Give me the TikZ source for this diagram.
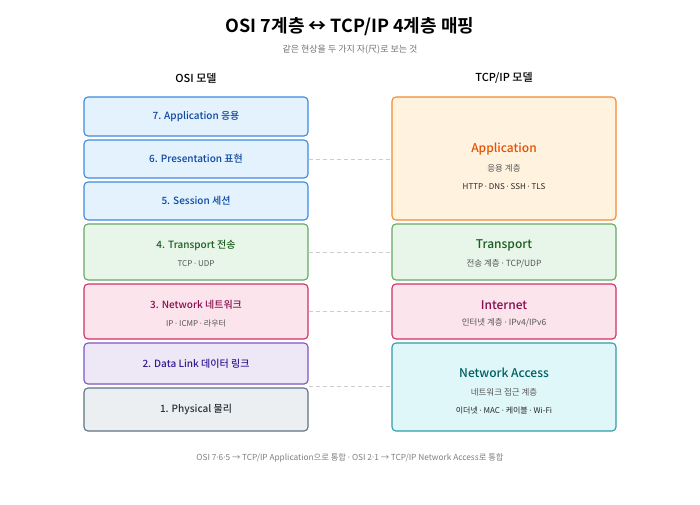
\documentclass[tikz,border=0pt]{standalone}
\usepackage{fontspec}
\setmainfont{Noto Sans CJK KR}[BoldFont={Noto Sans CJK KR Medium}]
\newfontfamily\latinfont{Noto Sans}
\newfontfamily\titlefont{Noto Sans CJK KR Bold}
\newcommand{\mdot}{\ {\latinfont ·}\ }
\usepackage{xcolor}
\usepackage{tikz}
\usetikzlibrary{arrows,positioning,calc}

\definecolor{appfill}{HTML}{E3F2FD}
\definecolor{appline}{HTML}{3D8BE0}
\definecolor{apptext}{HTML}{0D47A1}
\definecolor{trfill}{HTML}{E8F5E9}
\definecolor{trline}{HTML}{66A866}
\definecolor{trtext}{HTML}{1B5E20}
\definecolor{netfill}{HTML}{FCE4EC}
\definecolor{netline}{HTML}{D0306A}
\definecolor{nettext}{HTML}{880E4F}
\definecolor{dlfill}{HTML}{EDE7F6}
\definecolor{dlline}{HTML}{7E57C2}
\definecolor{dltext}{HTML}{311B92}
\definecolor{phfill}{HTML}{ECEFF1}
\definecolor{phline}{HTML}{5F7380}
\definecolor{phtext}{HTML}{263238}
\definecolor{tapfill}{HTML}{FFF3E0}
\definecolor{tapline}{HTML}{F18B2C}
\definecolor{taptext}{HTML}{E65100}
\definecolor{nafill}{HTML}{E0F7FA}
\definecolor{naline}{HTML}{2E9FA6}
\definecolor{natext}{HTML}{006064}
\definecolor{subgray}{HTML}{555555}

\tikzset{
  layerbox/.style={draw, line width=1.1pt, rounded corners=4pt, minimum width=224pt, inner sep=0pt},
  osiname/.style={font=\fontsize{10}{12}\selectfont\bfseries},
  tcpname/.style={font=\fontsize{12}{14}\selectfont\bfseries},
  subtxt/.style={font=\fontsize{8}{10}\selectfont, text=subgray},
  mapline/.style={draw=black!20, line width=0.8pt, dash pattern=on 4pt off 3pt}
}

\begin{document}
\begin{tikzpicture}[x=1pt,y=-1pt]
\useasboundingbox[fill=white] (0,0) rectangle (700,504);

% Title
\node[font=\fontsize{18}{22}\selectfont\titlefont] (title) at (350,27) {OSI 7계층 ↔ TCP/IP 4계층 매핑};
\node[font=\fontsize{9}{11}\selectfont, text=black!55] (subtitle) at (350,50) {같은 현상을 두 가지 자(尺)로 보는 것};

% Column headers
\node[font=\fontsize{11}{13}\selectfont\bfseries] (osihead) at (196,78) {OSI 모델};
\node[font=\fontsize{11}{13}\selectfont\bfseries] (tcphead) at (504,78) {TCP/IP 모델};

% OSI layers
\node[layerbox, fill=appfill, draw=appline, minimum height=39pt] (l7) at (196,116.5) {};
\node[layerbox, fill=appfill, draw=appline, minimum height=38pt] (l6) at (196,159) {};
\node[layerbox, fill=appfill, draw=appline, minimum height=38pt] (l5) at (196,201) {};
\node[layerbox, fill=trfill, draw=trline, minimum height=56pt] (l4) at (196,252) {};
\node[layerbox, fill=netfill, draw=netline, minimum height=55pt] (l3) at (196,311.5) {};
\node[layerbox, fill=dlfill, draw=dlline, minimum height=41pt] (l2) at (196,363.5) {};
\node[layerbox, fill=phfill, draw=phline, minimum height=43pt] (l1) at (196,409.5) {};

\node[osiname, text=apptext] at (l7.center) {7. Application 응용};
\node[osiname, text=apptext] at (l6.center) {6. Presentation 표현};
\node[osiname, text=apptext] at (l5.center) {5. Session 세션};
\node[osiname, text=trtext] at ([yshift=7pt]l4.center) {4. Transport 전송};
\node[subtxt] at ([yshift=-12pt]l4.center) {TCP\mdot UDP};
\node[osiname, text=nettext] at ([yshift=6.5pt]l3.center) {3. Network 네트워크};
\node[subtxt] at ([yshift=-11.5pt]l3.center) {IP\mdot ICMP\mdot 라우터};
\node[osiname, text=dltext] at (l2.center) {2. Data Link 데이터 링크};
\node[osiname, text=phtext] at (l1.center) {1. Physical 물리};

% TCP/IP layers
\node[layerbox, fill=tapfill, draw=tapline, minimum height=123pt] (tapp) at (504,158.5) {};
\node[layerbox, fill=trfill, draw=trline, minimum height=56pt] (ttr) at (504,252) {};
\node[layerbox, fill=netfill, draw=netline, minimum height=55pt] (tinet) at (504,311.5) {};
\node[layerbox, fill=nafill, draw=naline, minimum height=88pt] (tna) at (504,387) {};

\node[tcpname, text=taptext] at ([yshift=9.5pt]tapp.center) {Application};
\node[subtxt, font=\fontsize{8.5}{10}\selectfont] at ([yshift=-9.5pt]tapp.center) {응용 계층};
\node[subtxt, text=black!85] at ([yshift=-28.5pt]tapp.center) {HTTP\mdot DNS\mdot SSH\mdot TLS};
\node[tcpname, text=trtext] at ([yshift=7pt]ttr.center) {Transport};
\node[subtxt, font=\fontsize{8.5}{10}\selectfont] at ([yshift=-12pt]ttr.center) {전송 계층\mdot TCP/UDP};
\node[tcpname, text=nettext] at ([yshift=6.5pt]tinet.center) {Internet};
\node[subtxt, font=\fontsize{8.5}{10}\selectfont] at ([yshift=-11.5pt]tinet.center) {인터넷 계층\mdot IPv4/IPv6};
\node[tcpname, text=natext] at ([yshift=14pt]tna.center) {Network Access};
\node[subtxt, font=\fontsize{8.5}{10}\selectfont] at ([yshift=-5pt]tna.center) {네트워크 접근 계층};
\node[subtxt, text=black!85] at ([yshift=-23pt]tna.center) {이더넷\mdot MAC\mdot 케이블\mdot Wi-Fi};

% Mapping lines
\coordinate (gap21) at ($(l2.south east)!.5!(l1.north east)$);
\draw[mapline] (l6.east) -- (l6.east -| tapp.west);
\draw[mapline] (l4.east) -- (ttr.west);
\draw[mapline] (l3.east) -- (tinet.west);
\draw[mapline] (gap21) -- (gap21 -| tna.west);

% Footer
\node[font=\fontsize{8.3}{10}\selectfont, text=black!50] (footer) at (350,458) {OSI 7{\latinfont ·}6{\latinfont ·}5 → TCP/IP Application으로 통합\mdot OSI 2{\latinfont ·}1 → TCP/IP Network Access로 통합};
\end{tikzpicture}
\end{document}
